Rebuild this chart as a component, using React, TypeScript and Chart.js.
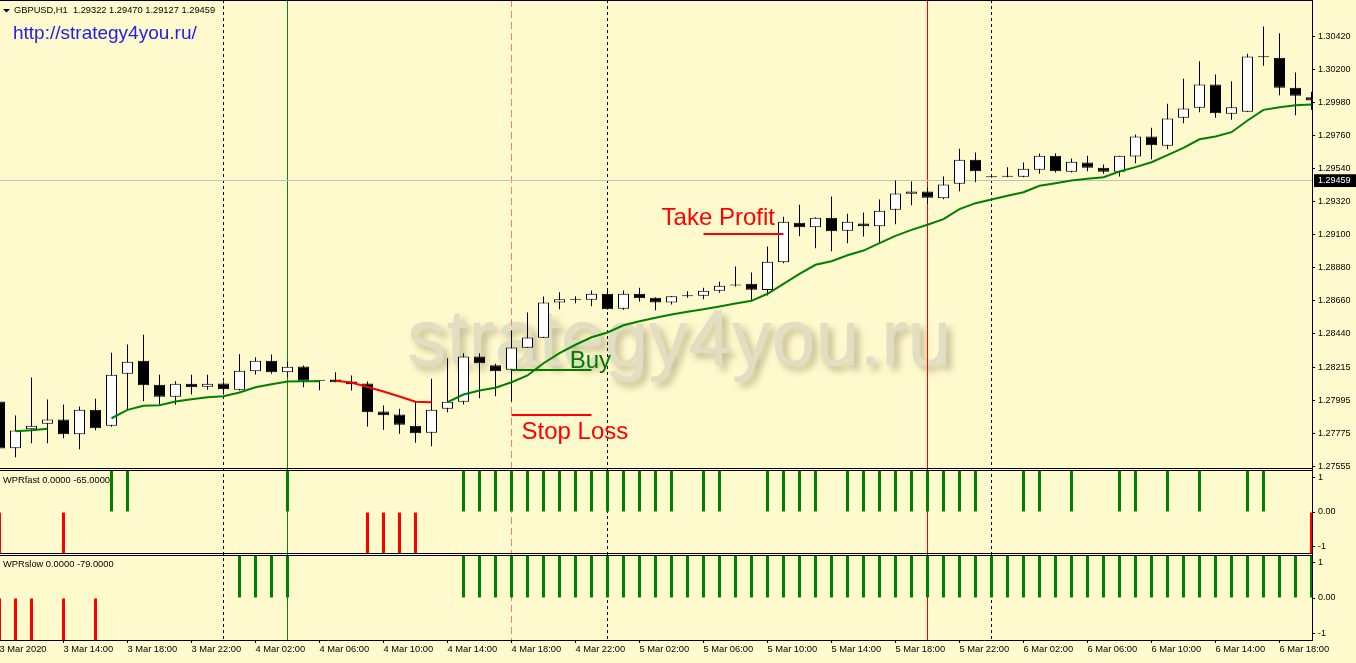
import React, { useEffect, useRef } from 'react';
import { Chart, registerables } from 'chart.js';

Chart.register(...registerables);

// ---------------- DATA: GBPUSD H1, bar 0 = 3 Mar 2020 10:00 ----------------
const opens = [
  1.27987, 1.27675, 1.27802, 1.27838, 1.27867, 1.27769, 1.27931, 1.27825, 1.28171, 1.28258,
  1.28098, 1.28018, 1.28105, 1.28085, 1.28107, 1.28065, 1.28189, 1.28258, 1.28182, 1.28220,
  1.28125, 1.28133, 1.28120, 1.28107, 1.27920, 1.27900, 1.27825, 1.27778, 1.27938, 1.27985,
  1.28287, 1.28229, 1.28198, 1.28345, 1.28411, 1.28647, 1.28665, 1.28665, 1.28705, 1.28605,
  1.28705, 1.28678, 1.28647, 1.28689, 1.28691, 1.28725, 1.28760, 1.28771, 1.28730, 1.28915,
  1.29178, 1.29149, 1.29211, 1.29125, 1.29173, 1.29155, 1.29265, 1.29371, 1.29387, 1.29342,
  1.29438, 1.29598, 1.29482, 1.29485, 1.29485, 1.29531, 1.29625, 1.29518, 1.29580, 1.29545,
  1.29518, 1.29620, 1.29753, 1.29691, 1.29878, 1.29945, 1.30100, 1.29905, 1.29918, 1.30282,
  1.30278, 1.30078, 1.30015,
];
const highs = [
  1.27995, 1.27893, 1.28147, 1.28000, 1.27967, 1.27953, 1.28005, 1.28311, 1.28367, 1.28431,
  1.28165, 1.28122, 1.28165, 1.28165, 1.28120, 1.28302, 1.28282, 1.28300, 1.28251, 1.28227,
  1.28127, 1.28182, 1.28160, 1.28120, 1.27960, 1.27938, 1.27987, 1.28138, 1.28275, 1.28309,
  1.28309, 1.28238, 1.28460, 1.28580, 1.28687, 1.28715, 1.28689, 1.28727, 1.28727, 1.28727,
  1.28745, 1.28682, 1.28689, 1.28722, 1.28745, 1.28785, 1.28887, 1.28847, 1.29020, 1.29218,
  1.29298, 1.29215, 1.29353, 1.29238, 1.29247, 1.29333, 1.29460, 1.29453, 1.29413, 1.29487,
  1.29671, 1.29647, 1.29487, 1.29549, 1.29580, 1.29640, 1.29642, 1.29607, 1.29625, 1.29567,
  1.29625, 1.29767, 1.29811, 1.29971, 1.30138, 1.30255, 1.30167, 1.30122, 1.30305, 1.30487,
  1.30442, 1.30180, 1.30051,
];
const lows = [
  1.27660, 1.27615, 1.27709, 1.27709, 1.27742, 1.27669, 1.27795, 1.27818, 1.27931, 1.27989,
  1.27967, 1.27965, 1.28033, 1.28065, 1.28033, 1.28060, 1.28167, 1.28171, 1.28149, 1.28082,
  1.28062, 1.28115, 1.28060, 1.27820, 1.27798, 1.27771, 1.27711, 1.27689, 1.27915, 1.27967,
  1.28009, 1.28022, 1.27987, 1.28345, 1.28411, 1.28602, 1.28642, 1.28622, 1.28600, 1.28598,
  1.28653, 1.28595, 1.28633, 1.28678, 1.28669, 1.28711, 1.28753, 1.28660, 1.28693, 1.28909,
  1.29089, 1.29009, 1.28989, 1.29042, 1.29087, 1.29042, 1.29169, 1.29295, 1.29302, 1.29335,
  1.29389, 1.29449, 1.29478, 1.29482, 1.29482, 1.29505, 1.29513, 1.29513, 1.29522, 1.29505,
  1.29487, 1.29575, 1.29602, 1.29669, 1.29842, 1.29915, 1.29878, 1.29865, 1.29918, 1.30225,
  1.30029, 1.29895, 1.29931,
];
const closes = [
  1.27673, 1.27793, 1.27825, 1.27867, 1.27769, 1.27931, 1.27809, 1.28165, 1.28251, 1.28095,
  1.28018, 1.28105, 1.28082, 1.28105, 1.28069, 1.28191, 1.28258, 1.28182, 1.28218, 1.28125,
  1.28125, 1.28115, 1.28102, 1.27915, 1.27895, 1.27831, 1.27775, 1.27931, 1.27985, 1.28287,
  1.28242, 1.28189, 1.28347, 1.28413, 1.28647, 1.28669, 1.28665, 1.28705, 1.28602, 1.28705,
  1.28675, 1.28647, 1.28689, 1.28689, 1.28725, 1.28758, 1.28760, 1.28731, 1.28918, 1.29185,
  1.29149, 1.29211, 1.29122, 1.29185, 1.29155, 1.29258, 1.29373, 1.29387, 1.29345, 1.29433,
  1.29598, 1.29522, 1.29482, 1.29485, 1.29539, 1.29625, 1.29522, 1.29585, 1.29545, 1.29518,
  1.29625, 1.29753, 1.29695, 1.29873, 1.29940, 1.30100, 1.29909, 1.29949, 1.30287, 1.30282,
  1.30078, 1.30025, 1.29993,
];
// moving average, rising (green) and falling (red) buffers
const maUp = [
  null, 1.27789, 1.27795, 1.27805, null, null, null, 1.27875, 1.27931, 1.27958,
  1.27962, 1.27987, 1.28002, 1.28015, 1.28022, 1.28047, 1.28082, 1.28102, 1.28120, 1.28122,
  1.28122, null, null, null, null, null, null, null, 1.27982, 1.28033,
  1.28060, 1.28078, 1.28115, 1.28160, 1.28242, 1.28309, 1.28365, 1.28415, 1.28447, 1.28495,
  1.28522, 1.28545, 1.28567, 1.28585, 1.28602, 1.28620, 1.28640, 1.28658, 1.28705, 1.28771,
  1.28838, 1.28898, 1.28922, 1.28962, 1.28993, 1.29042, 1.29091, 1.29131, 1.29165, 1.29202,
  1.29269, 1.29309, 1.29333, 1.29358, 1.29382, 1.29425, 1.29442, 1.29460, 1.29471, 1.29482,
  1.29520, 1.29549, 1.29582, 1.29629, 1.29678, 1.29735, 1.29753, 1.29782, 1.29860, 1.29931,
  1.29949, 1.29962, 1.29967,
];
const maDown = [
  null, null, null, null, null, null, null, null, null, null,
  null, null, null, null, null, null, null, null, null, null,
  null, 1.28125, 1.28113, 1.28083, 1.28053, 1.28020, 1.27985, 1.27982, null, null,
  null, null, null, null, null, null, null, null, null, null,
  null, null, null, null, null, null, null, null, null, null,
  null, null, null, null, null, null, null, null, null, null,
  null, null, null, null, null, null, null, null, null, null,
  null, null, null, null, null, null, null, null, null, null,
  null, null, null,
];
const wprFast = [
  -1, 0, 0, 0, -1, 0, 0, 1, 1, 0,
  0, 0, 0, 0, 0, 0, 0, 0, 1, 0,
  0, 0, 0, -1, -1, -1, -1, 0, 0, 1,
  1, 1, 1, 1, 1, 1, 1, 1, 1, 1,
  1, 1, 1, 0, 1, 1, 0, 0, 1, 1,
  1, 1, 0, 1, 1, 1, 1, 1, 1, 1,
  1, 1, 0, 0, 1, 1, 0, 1, 0, 0,
  1, 1, 0, 1, 0, 1, 0, 0, 1, 1,
  0, 0, -1,
];
const wprSlow = [
  -1, -1, -1, 0, -1, 0, -1, 0, 0, 0,
  0, 0, 0, 0, 0, 1, 1, 1, 1, 0,
  0, 0, 0, 0, 0, 0, 0, 0, 0, 1,
  1, 1, 1, 1, 1, 1, 1, 1, 1, 1,
  1, 1, 1, 1, 1, 1, 1, 1, 1, 1,
  1, 1, 1, 1, 1, 1, 1, 1, 1, 1,
  1, 1, 1, 1, 1, 1, 1, 1, 1, 1,
  1, 1, 1, 1, 1, 1, 1, 1, 1, 1,
  1, 1, 1,
];
const timeLabels = [
  '3 Mar 2020', '3 Mar 14:00', '3 Mar 18:00', '3 Mar 22:00', '4 Mar 02:00', '4 Mar 06:00',
  '4 Mar 10:00', '4 Mar 14:00', '4 Mar 18:00', '4 Mar 22:00', '5 Mar 02:00', '5 Mar 06:00',
  '5 Mar 10:00', '5 Mar 14:00', '5 Mar 18:00', '5 Mar 22:00', '6 Mar 02:00', '6 Mar 06:00',
  '6 Mar 10:00', '6 Mar 14:00', '6 Mar 18:00',
];
const timeLabelBars = [0, 4, 8, 12, 16, 20, 24, 28, 32, 36, 40, 44, 48, 52, 56, 60, 64, 68, 72, 76, 80];
const priceTicks = [
  1.30420, 1.30200, 1.29980, 1.29760, 1.29540, 1.29320, 1.29100,
  1.28880, 1.28660, 1.28440, 1.28215, 1.27995, 1.27775, 1.27555,
];
const bidPrice = 1.29459;
const wprTickValues = [1, 0, -1];
const wprTickLabels = ['1', '0.00', '-1'];
const daySeparatorBars = [14, 38, 62];
const markerLines = [
  { bar: 18, color: '#0b870b', dash: [] as number[] },
  { bar: 32, color: '#f08080', dash: [7, 4] },
  { bar: 58, color: '#ff0000', dash: [] as number[] },
];
const tradeLevels = [
  { price: 1.29103, fromBar: 44, toBar: 49, color: '#ff0000' },
  { price: 1.28197, fromBar: 32, toBar: 37, color: '#007a00' },
  { price: 1.27897, fromBar: 32, toBar: 37, color: '#ff0000' },
];
const tradeTexts = [
  { text: 'Take Profit', bar: 41.38, price: 1.29163, color: '#ff0000' },
  { text: 'Buy', bar: 35.64, price: 1.28210, color: '#007a00' },
  { text: 'Stop Loss', bar: 32.63, price: 1.27737, color: '#ff0000' },
];
const watermark = { text: 'strategy4you.ru', bar: 25.47, price: 1.28230 };
const headerText = 'GBPUSD,H1  1.29322 1.29470 1.29127 1.29459';
const urlText = 'http://strategy4you.ru/';
const fastLabel = 'WPRfast 0.0000 -65.0000';
const slowLabel = 'WPRslow 0.0000 -79.0000';

// ---------------- LAYOUT / STYLE ----------------
const FONT = '"Liberation Sans", Arial, sans-serif';
const BG = '#FFFACD';
const GREEN = '#008000';
const RED = '#ff0000';
const PX_PER_PRICE = 15000; // 0.0022 per 33px
const X_MIN = 0.03125;
const X_MAX = 82.03125; // 16 px per bar over 1312 px
const MAIN_MAX = 1.30420 + 36.5 / PX_PER_PRICE;
const MAIN_MIN = MAIN_MAX - 470 / PX_PER_PRICE;
const MAIN_TOP_BORDER = MAIN_MAX - 0.5 / PX_PER_PRICE;
const MAIN_BOTTOM_BORDER = MAIN_MAX - 468.5 / PX_PER_PRICE;
const F_MAX = 1 + 1 / 41;
const F_MIN = -1 - 1 / 41;
const F_TOP_BORDER = 1 + 0.5 / 41;
const F_BOTTOM_BORDER = -1 - 0.5 / 41;
const S_MAX = 1 + 2 / 42;
const S_MIN = -1;
const S_TOP_BORDER = 1 + 0.5 / 42;
const LABEL_INSET = 0.84;
const TRANSPARENT = 'rgba(0,0,0,0)';

const fastTicks = [F_TOP_BORDER, ...wprTickValues.map((v) => v * LABEL_INSET), F_BOTTOM_BORDER];
const slowTicks = [S_TOP_BORDER, ...wprTickValues.map((v) => v * LABEL_INSET)];
const xTicks = Array.from(new Set([...timeLabelBars, ...daySeparatorBars, ...markerLines.map((m) => m.bar)])).sort((a, b) => a - b);

function wprLabel(v: number) {
  const k = wprTickValues.findIndex((t) => Math.abs(t * LABEL_INSET - v) < 1e-9);
  return k >= 0 ? wprTickLabels[k] : '';
}

const overlayPlugin = {
  id: 'mt4Overlay',
  beforeDraw(chart: any) {
    const { ctx, width, height } = chart;
    const xs = chart.scales.x;
    const ys = chart.scales.y;
    ctx.save();
    ctx.fillStyle = BG;
    ctx.fillRect(0, 0, width, height);
    ctx.font = `79px ${FONT}`;
    ctx.textBaseline = 'alphabetic';
    ctx.textAlign = 'left';
    ctx.shadowColor = 'rgba(120,110,70,0.45)';
    ctx.shadowBlur = 7;
    ctx.shadowOffsetX = 5;
    ctx.shadowOffsetY = 5;
    ctx.fillStyle = '#E2DEC4';
    ctx.fillText(watermark.text, xs.getPixelForValue(watermark.bar), ys.getPixelForValue(watermark.price));
    ctx.restore();
  },
  afterDatasetsDraw(chart: any) {
    const { ctx } = chart;
    const xs = chart.scales.x;
    const ys = chart.scales.y;
    ctx.save();
    ctx.font = `24px ${FONT}`;
    ctx.textBaseline = 'alphabetic';
    ctx.textAlign = 'left';
    tradeTexts.forEach((t) => {
      ctx.fillStyle = t.color;
      ctx.fillText(t.text, xs.getPixelForValue(t.bar), ys.getPixelForValue(t.price));
    });
    ctx.restore();
  },
  afterDraw(chart: any) {
    const { ctx } = chart;
    ctx.save();
    ctx.fillStyle = '#000';
    ctx.beginPath();
    ctx.moveTo(3, 9);
    ctx.lineTo(10, 9);
    ctx.lineTo(6.5, 12.5);
    ctx.closePath();
    ctx.fill();
    ctx.font = `9.3px ${FONT}`;
    ctx.textBaseline = 'middle';
    ctx.textAlign = 'left';
    ctx.fillText(headerText, 14, 10.5);
    ctx.fillText(fastLabel, 3, chart.scales.yf.top + 10);
    ctx.fillText(slowLabel, 3, chart.scales.ys.top + 10);
    ctx.font = `19px ${FONT}`;
    ctx.textBaseline = 'alphabetic';
    ctx.fillStyle = '#2222e6';
    ctx.fillText(urlText, 13, 38.5);
    ctx.restore();
  },
};

export default function App() {
  const ref = useRef<HTMLCanvasElement>(null);

  useEffect(() => {
    document.body.style.margin = '0';
    document.body.style.overflow = 'hidden';
    const canvas = ref.current;
    if (!canvas) return;

    const wickData = lows.map((l, i) => ({ x: i, y: [l, highs[i]] }));
    const bodyData = opens.map((o, i) => ({ x: i, y: [o, closes[i]] }));
    const bodyColors = opens.map((o, i) => (closes[i] >= o ? '#ffffff' : '#000000'));

    const barCommon = { grouped: false, inflateAmount: 0, xAxisID: 'x' };

    const datasets: any[] = [
      {
        ...barCommon, type: 'bar', data: wickData, yAxisID: 'y', barThickness: 1,
        backgroundColor: '#000', borderWidth: 0, order: 10,
      },
      {
        ...barCommon, type: 'bar', data: bodyData, yAxisID: 'y', barThickness: 11,
        backgroundColor: bodyColors, borderColor: '#000', borderWidth: 1, borderSkipped: false,
        minBarLength: 1, order: 9,
      },
      {
        ...barCommon, type: 'bar', data: wprFast.map((v, i) => ({ x: i, y: v })), yAxisID: 'yf',
        barThickness: 3, borderWidth: 0, backgroundColor: wprFast.map((v) => (v > 0 ? GREEN : RED)), order: 8,
      },
      {
        ...barCommon, type: 'bar', data: wprSlow.map((v, i) => ({ x: i, y: v })), yAxisID: 'ys',
        barThickness: 3, borderWidth: 0, backgroundColor: wprSlow.map((v) => (v > 0 ? GREEN : RED)), order: 8,
      },
      {
        type: 'line', data: maUp.map((v, i) => ({ x: i, y: v })), xAxisID: 'x', yAxisID: 'y',
        borderColor: GREEN, borderWidth: 2, pointRadius: 0, spanGaps: false, tension: 0, order: 5,
      },
      {
        type: 'line', data: maDown.map((v, i) => ({ x: i, y: v })), xAxisID: 'x', yAxisID: 'y',
        borderColor: RED, borderWidth: 2, pointRadius: 0, spanGaps: false, tension: 0, order: 5,
      },
      ...tradeLevels.map((l) => ({
        type: 'line', data: [{ x: l.fromBar, y: l.price }, { x: l.toBar, y: l.price }],
        xAxisID: 'x', yAxisID: 'y', borderColor: l.color, borderWidth: 2, pointRadius: 0, order: 4,
      })),
    ];

    const yAxisCommon = (weight: number) => ({
      type: 'linear', position: 'right', stack: 'panes', stackWeight: weight, bounds: 'data',
      offset: false,
      border: { display: true, color: '#000', width: 1 },
      afterFit: (s: any) => { s.width = 44; s.paddingTop = 0; s.paddingBottom = 0; },
    });

    const chart = new Chart(canvas, {
      type: 'bar',
      data: { datasets },
      plugins: [overlayPlugin],
      options: {
        animation: false,
        responsive: false,
        maintainAspectRatio: false,
        devicePixelRatio: 1,
        events: [],
        layout: { padding: 0 },
        plugins: { legend: { display: false }, tooltip: { enabled: false }, title: { display: false } },
        scales: {
          x: {
            type: 'linear', position: 'bottom', min: X_MIN, max: X_MAX, bounds: 'data', offset: false,
            grid: {
              offset: false, drawTicks: true, tickLength: 3, lineWidth: 1,
              color: (c: any) => {
                const v = c.tick ? c.tick.value : undefined;
                if (daySeparatorBars.includes(v)) return '#000';
                const m = markerLines.find((mm) => mm.bar === v);
                return m ? m.color : TRANSPARENT;
              },
              tickColor: (c: any) => (c.tick && timeLabelBars.includes(c.tick.value) ? '#000' : TRANSPARENT),
            },
            border: {
              display: true, color: '#000', width: 1,
              dash: (c: any) => {
                const v = c.tick ? c.tick.value : undefined;
                if (v === undefined) return [];
                if (daySeparatorBars.includes(v)) return [3, 3];
                const m = markerLines.find((mm) => mm.bar === v);
                return m ? m.dash : [];
              },
            },
            ticks: {
              autoSkip: false, maxRotation: 0, minRotation: 0, align: 'start', padding: 1,
              color: '#000', font: { family: FONT, size: 9.3 },
              callback: (v: any) => {
                const k = timeLabelBars.indexOf(v);
                return k >= 0 ? timeLabels[k] : '';
              },
            },
            afterBuildTicks: (s: any) => { s.ticks = xTicks.map((v) => ({ value: v })); },
            afterFit: (s: any) => { s.height = 23; s.paddingLeft = 0; s.paddingRight = 0; },
          },
          y: {
            ...yAxisCommon(470), min: MAIN_MIN, max: MAIN_MAX,
            grid: {
              drawTicks: true, tickLength: 3, lineWidth: 1,
              color: (c: any) => {
                const v = c.tick ? c.tick.value : undefined;
                if (v === bidPrice) return '#c0c0c0';
                if (v === MAIN_TOP_BORDER || v === MAIN_BOTTOM_BORDER) return '#000';
                return TRANSPARENT;
              },
              tickColor: (c: any) => (c.tick && priceTicks.includes(c.tick.value) ? '#000' : TRANSPARENT),
            },
            ticks: {
              autoSkip: false, padding: 3, font: { family: FONT, size: 9 },
              color: (c: any) => (c.tick && c.tick.value === bidPrice ? '#fff' : '#000'),
              showLabelBackdrop: (c: any) => !!(c.tick && c.tick.value === bidPrice),
              backdropColor: '#000',
              backdropPadding: { top: 1, bottom: 1, left: 4, right: 6 },
              callback: (v: any) => (priceTicks.includes(v) || v === bidPrice ? Number(v).toFixed(5) : ''),
            },
            afterBuildTicks: (s: any) => {
              s.ticks = [MAIN_TOP_BORDER, ...priceTicks, bidPrice, MAIN_BOTTOM_BORDER]
                .sort((a, b) => b - a).map((v) => ({ value: v }));
            },
          },
          yf: {
            ...yAxisCommon(84), min: F_MIN, max: F_MAX,
            grid: {
              drawTicks: true, tickLength: 3, lineWidth: 1,
              color: (c: any) => (c.tick && (c.tick.value === F_TOP_BORDER || c.tick.value === F_BOTTOM_BORDER) ? '#000' : TRANSPARENT),
              tickColor: (c: any) => (c.tick && wprLabel(c.tick.value) ? '#000' : TRANSPARENT),
            },
            ticks: {
              autoSkip: false, padding: 3, color: '#000', font: { family: FONT, size: 9 },
              callback: (v: any) => wprLabel(v),
            },
            afterBuildTicks: (s: any) => { s.ticks = fastTicks.map((v) => ({ value: v })); },
          },
          ys: {
            ...yAxisCommon(86), min: S_MIN, max: S_MAX,
            grid: {
              drawTicks: true, tickLength: 3, lineWidth: 1,
              color: (c: any) => (c.tick && c.tick.value === S_TOP_BORDER ? '#000' : TRANSPARENT),
              tickColor: (c: any) => (c.tick && wprLabel(c.tick.value) ? '#000' : TRANSPARENT),
            },
            ticks: {
              autoSkip: false, padding: 3, color: '#000', font: { family: FONT, size: 9 },
              callback: (v: any) => wprLabel(v),
            },
            afterBuildTicks: (s: any) => { s.ticks = slowTicks.map((v) => ({ value: v })); },
          },
        },
      } as any,
    } as any);

    return () => chart.destroy();
  }, []);

  return (
    <canvas
      ref={ref}
      width={1356}
      height={663}
      style={{ display: 'block', width: '1356px', height: '663px' }}
    />
  );
}
